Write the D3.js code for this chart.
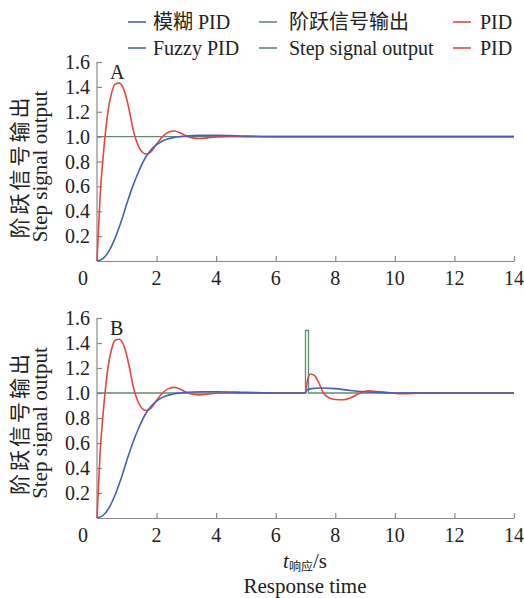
<!DOCTYPE html>
<html>
<head>
<meta charset="utf-8">
<script src="https://cdn.jsdelivr.net/npm/d3@7"></script>
<style>
  html, body { margin: 0; padding: 0; background: #fff; }
</style>
</head>
<body>
<svg id="chart" width="524" height="598" font-family="'Liberation Serif', 'Times New Roman', 'DejaVu Serif', serif"></svg>
<script>
// ---------- data ----------
const xTicks = [0, 2, 4, 6, 8, 10, 12, 14];
const yTicks = [0.2, 0.4, 0.6, 0.8, 1.0, 1.2, 1.4, 1.6];
const yTickLabels = ["0.2", "0.4", "0.6", "0.8", "1.0", "1.2", "1.4", "1.6"];

// Fuzzy PID response (blue)
const fuzzyT = [0, 0.2, 0.4, 0.6, 0.8, 1.0, 1.2, 1.4, 1.6, 1.8, 2.0, 2.2, 2.4, 2.6, 2.8, 3.0, 3.5, 4.0, 5.0, 6.0, 14];
const fuzzyV = [0, 0.02, 0.08, 0.18, 0.31, 0.46, 0.60, 0.72, 0.82, 0.89, 0.935, 0.965, 0.983, 0.994, 1.0, 1.005, 1.01, 1.01, 1.005, 1.0, 1.0];

// PID response (red)
const pidT = [0, 0.05, 0.1, 0.2, 0.3, 0.4, 0.5, 0.6, 0.75, 0.9, 1.0, 1.1, 1.2, 1.3, 1.4, 1.5, 1.65, 1.8, 2.0, 2.2, 2.4, 2.6, 2.8, 3.0, 3.2, 3.45, 3.7, 4.0, 4.5, 5.0, 14];
const pidV = [0, 0.25, 0.5, 0.82, 1.07, 1.25, 1.36, 1.42, 1.43, 1.38, 1.30, 1.19, 1.07, 0.98, 0.92, 0.88, 0.86, 0.875, 0.94, 1.0, 1.035, 1.045, 1.03, 1.005, 0.99, 0.985, 0.99, 0.998, 1.002, 1.0, 1.0];

// Panel B: responses after the disturbance at t = 7 s
const fuzzyDistT = [7.0, 7.05, 7.2, 7.5, 8.0, 8.5, 9.0, 9.5, 10.0, 14];
const fuzzyDistV = [1.0, 1.025, 1.035, 1.04, 1.035, 1.02, 1.01, 1.004, 1.0, 1.0];
const pidDistT = [7.0, 7.05, 7.1, 7.16, 7.3, 7.45, 7.6, 7.8, 8.0, 8.27, 8.5, 8.83, 9.1, 9.4, 9.9, 10.3, 10.8, 14];
const pidDistV = [1.0, 1.08, 1.13, 1.152, 1.14, 1.08, 1.0, 0.96, 0.948, 0.946, 0.96, 1.0, 1.018, 1.012, 1.0, 0.995, 0.999, 1.0];

// Step signal (green)
const stepAT = [0, 14];
const stepAV = [1, 1];
const stepBT = [0, 7.0, 7.0, 7.1, 7.1, 14];
const stepBV = [1, 1, 1.5, 1.5, 1, 1];

const legendRow1 = ["模糊 PID", "阶跃信号输出", "PID"];
const legendRow2 = ["Fuzzy PID", "Step signal output", "PID"];
const panelLabels = ["A", "B"];

// ---------- styling ----------
const colBlue = "#4662b3";
const colGreen = "#5e8c70";
const colRed = "#e8473d";
const axisCol = "#8a8a8a";
const txtCol = "#222";
const cjk = "'Noto Sans CJK SC', sans-serif";

const svg = d3.select("#chart");
const left = 97, right = 514;
const panels = [
  { top: 62, bottom: 261, label: panelLabels[0],
    step: [stepAT, stepAV],
    fuzzy: [fuzzyT, fuzzyV],
    pid: [pidT, pidV] },
  { top: 318, bottom: 518, label: panelLabels[1],
    step: [stepBT, stepBV],
    fuzzy: [fuzzyT.filter(t => t < 7).concat(fuzzyDistT),
            fuzzyV.filter((v, i) => fuzzyT[i] < 7).concat(fuzzyDistV)],
    pid: [pidT.filter(t => t < 7).concat(pidDistT),
          pidV.filter((v, i) => pidT[i] < 7).concat(pidDistV)] }
];

const x = d3.scaleLinear().domain([0, 14]).range([left, right]);

panels.forEach(p => {
  const y = d3.scaleLinear().domain([0, 1.6]).range([p.bottom, p.top]);
  const g = svg.append("g").attr("fill", txtCol);

  const xAxis = d3.axisBottom(x).tickValues(xTicks).tickSizeInner(-5).tickSizeOuter(0).tickFormat("");
  const gx = g.append("g").attr("transform", `translate(0,${p.bottom})`).call(xAxis);
  const yAxis = d3.axisLeft(y).tickValues(yTicks).tickSizeInner(-5).tickSizeOuter(0).tickFormat("");
  const gy = g.append("g").attr("transform", `translate(${left},0)`).call(yAxis);
  [gx, gy].forEach(a => {
    a.attr("font-family", null);
    a.selectAll("path").attr("stroke", axisCol).attr("stroke-width", 1.2);
    a.selectAll("line").attr("stroke", axisCol).attr("stroke-width", 1.2);
  });
  gy.select("path").attr("d", `M0,${p.bottom}V${p.top}`);

  g.selectAll(".xl").data(xTicks).enter().append("text")
    .attr("x", d => d === 0 ? x(d) - 14 : x(d))
    .attr("y", p.bottom + 24)
    .attr("text-anchor", "middle")
    .attr("font-size", 20)
    .text(d => d);
  g.selectAll(".yl").data(yTicks).enter().append("text")
    .attr("x", left - 7)
    .attr("y", d => y(d))
    .attr("dy", "0.35em")
    .attr("text-anchor", "end")
    .attr("font-size", 20)
    .text((d, i) => yTickLabels[i]);

  const yc = (p.top + p.bottom) / 2 + 5;
  g.append("text")
    .attr("transform", `translate(27,${yc}) rotate(-90)`)
    .attr("text-anchor", "middle")
    .attr("font-size", 21)
    .attr("letter-spacing", 3)
    .attr("font-family", cjk)
    .text("阶跃信号输出");
  g.append("text")
    .attr("transform", `translate(47,${yc}) rotate(-90)`)
    .attr("text-anchor", "middle")
    .attr("font-size", 21)
    .text("Step signal output");

  g.append("text")
    .attr("x", 110).attr("y", p.top + 17)
    .attr("font-size", 20)
    .text(p.label);

  const lineFn = (curve) => d3.line()
    .x(d => x(d[0])).y(d => y(d[1])).curve(curve);
  const pairs = (arr) => arr[0].map((t, i) => [t, arr[1][i]]);

  g.append("path").datum(pairs(p.step))
    .attr("d", lineFn(d3.curveLinear))
    .attr("fill", "none").attr("stroke", colGreen).attr("stroke-width", 1.3);
  g.append("path").datum(pairs(p.pid))
    .attr("d", lineFn(d3.curveMonotoneX))
    .attr("fill", "none").attr("stroke", colRed).attr("stroke-width", 1.6);
  g.append("path").datum(pairs(p.fuzzy))
    .attr("d", lineFn(d3.curveMonotoneX))
    .attr("fill", "none").attr("stroke", colBlue).attr("stroke-width", 1.6);
});

// legend
const legCols = [
  { lx: 128, tx: 153, color: colBlue },
  { lx: 259, tx: 289, color: colGreen },
  { lx: 453, tx: 480, color: colRed }
];
[[legendRow1, 22], [legendRow2, 48]].forEach(([labels, yy]) => {
  labels.forEach((lab, i) => {
    const c = legCols[i];
    svg.append("line")
      .attr("x1", c.lx).attr("x2", c.lx + 18)
      .attr("y1", yy).attr("y2", yy)
      .attr("stroke", c.color).attr("stroke-width", 1.6);
    const t = svg.append("text")
      .attr("x", c.tx).attr("y", yy + 7)
      .attr("font-size", 20)
      .attr("fill", txtCol);
    const parts = lab.match(/[\u4e00-\u9fff]+|[^\u4e00-\u9fff]+/g);
    parts.forEach(s => {
      const sp = t.append("tspan").text(s);
      if (/[\u4e00-\u9fff]/.test(s)) sp.attr("font-family", cjk);
    });
  });
});

// x title
const xt = svg.append("text").attr("x", 305).attr("y", 568).attr("text-anchor", "middle").attr("font-size", 21).attr("fill", txtCol);
xt.append("tspan").attr("font-style", "italic").text("t");
xt.append("tspan").attr("font-size", 12).attr("dy", 3).attr("font-family", cjk).text("响应");
xt.append("tspan").attr("dy", -3).text("/s");
svg.append("text").attr("x", 305).attr("y", 593).attr("text-anchor", "middle").attr("font-size", 21).attr("fill", txtCol).text("Response time");
</script>
</body>
</html>
